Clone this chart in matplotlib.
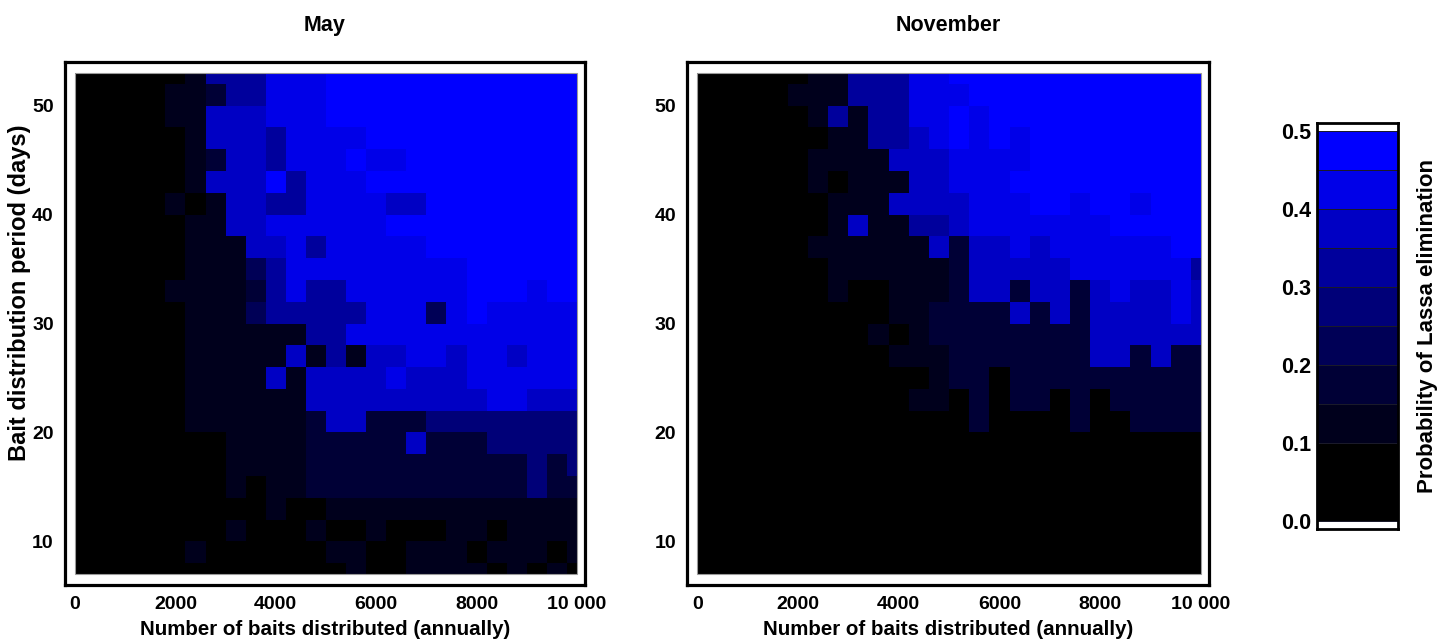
import matplotlib
matplotlib.use('Agg')

import matplotlib.pyplot as plt
import numpy as np
from matplotlib.colors import ListedColormap, BoundaryNorm
from matplotlib.patches import Rectangle

plt.rcParams['font.family'] = ['Liberation Sans', 'DejaVu Sans']
plt.rcParams['font.weight'] = 'bold'

# grid of scenarios
baits = [0, 400, 800, 1200, 1600, 2000, 2400, 2800, 3200, 3600, 4000, 4400, 4800,
         5200, 5600, 6000, 6400, 6800, 7200, 7600, 8000, 8400, 8800, 9200, 9600, 10000]
periods = [53, 51, 49, 47, 45, 43, 41, 39, 37, 35, 33, 31, 29, 27, 25, 23, 21, 19,
           17, 15, 13, 11, 9, 7]

# probability of elimination (%), rows follow `periods` (top to bottom)
may_pct = [
    [5, 5, 5, 5, 5, 5, 12, 32, 32, 32, 42, 42, 42, 47, 47, 47, 47, 47, 47, 47, 47, 47, 47, 47, 47, 47],
    [5, 5, 5, 5, 5, 12, 12, 17, 32, 32, 42, 42, 42, 47, 47, 47, 47, 47, 47, 47, 47, 47, 47, 47, 47, 47],
    [5, 5, 5, 5, 5, 12, 12, 37, 37, 37, 42, 42, 42, 47, 47, 47, 47, 47, 47, 47, 47, 47, 47, 47, 47, 47],
    [5, 5, 5, 5, 5, 5, 12, 37, 37, 37, 32, 42, 42, 42, 42, 47, 47, 47, 47, 47, 47, 47, 47, 47, 47, 47],
    [5, 5, 5, 5, 5, 5, 12, 17, 37, 37, 32, 42, 42, 42, 47, 42, 42, 47, 47, 47, 47, 47, 47, 47, 47, 47],
    [5, 5, 5, 5, 5, 5, 12, 37, 37, 37, 47, 32, 42, 42, 42, 47, 47, 47, 47, 47, 47, 47, 47, 47, 47, 47],
    [5, 5, 5, 5, 5, 12, 5, 12, 37, 37, 32, 32, 42, 42, 42, 42, 37, 37, 47, 47, 47, 47, 47, 47, 47, 47],
    [5, 5, 5, 5, 5, 5, 12, 12, 37, 37, 42, 42, 42, 42, 42, 42, 47, 47, 47, 47, 47, 47, 47, 47, 47, 47],
    [5, 5, 5, 5, 5, 5, 12, 12, 12, 37, 37, 42, 32, 42, 42, 42, 42, 42, 47, 47, 47, 47, 47, 47, 47, 47],
    [5, 5, 5, 5, 5, 5, 12, 12, 12, 22, 32, 42, 42, 42, 42, 42, 42, 42, 42, 42, 47, 47, 47, 47, 47, 47],
    [5, 5, 5, 5, 5, 12, 12, 12, 12, 17, 32, 42, 32, 32, 42, 42, 42, 42, 42, 42, 47, 47, 47, 42, 47, 47],
    [5, 5, 5, 5, 5, 5, 12, 12, 12, 22, 32, 32, 32, 32, 32, 42, 42, 42, 22, 42, 47, 42, 42, 42, 42, 42],
    [5, 5, 5, 5, 5, 5, 12, 12, 12, 12, 12, 12, 32, 32, 42, 42, 42, 42, 42, 42, 42, 42, 42, 42, 42, 42],
    [5, 5, 5, 5, 5, 5, 12, 12, 12, 12, 12, 37, 12, 32, 12, 37, 37, 42, 42, 37, 42, 42, 37, 42, 42, 42],
    [5, 5, 5, 5, 5, 5, 12, 12, 12, 12, 37, 12, 37, 37, 37, 37, 42, 37, 37, 37, 42, 42, 42, 42, 42, 42],
    [5, 5, 5, 5, 5, 5, 12, 12, 12, 12, 12, 12, 37, 37, 37, 37, 37, 37, 37, 37, 37, 42, 42, 37, 37, 37],
    [5, 5, 5, 5, 5, 5, 12, 12, 12, 12, 12, 12, 17, 37, 37, 17, 17, 17, 27, 27, 27, 27, 27, 27, 27, 27],
    [5, 5, 5, 5, 5, 5, 5, 5, 12, 12, 12, 12, 17, 17, 17, 17, 17, 37, 17, 17, 17, 27, 27, 27, 27, 27],
    [5, 5, 5, 5, 5, 5, 5, 5, 12, 12, 12, 12, 17, 17, 17, 17, 17, 17, 17, 17, 17, 17, 17, 27, 17, 27],
    [5, 5, 5, 5, 5, 5, 5, 5, 12, 5, 12, 12, 17, 17, 17, 17, 17, 17, 17, 17, 17, 17, 17, 27, 17, 17],
    [5, 5, 5, 5, 5, 5, 5, 5, 5, 5, 12, 5, 5, 12, 12, 12, 12, 12, 12, 12, 12, 12, 12, 12, 12, 12],
    [5, 5, 5, 5, 5, 5, 5, 5, 12, 5, 5, 5, 12, 5, 5, 12, 5, 5, 5, 12, 12, 5, 12, 12, 12, 12],
    [5, 5, 5, 5, 5, 5, 12, 5, 5, 5, 5, 5, 5, 12, 12, 5, 5, 12, 12, 12, 5, 12, 12, 12, 5, 12],
    [5, 5, 5, 5, 5, 5, 5, 5, 5, 5, 5, 5, 5, 5, 12, 5, 5, 12, 12, 12, 12, 5, 12, 5, 12, 5],
]

nov_pct = [
    [5, 5, 5, 5, 5, 5, 12, 12, 32, 32, 32, 42, 42, 47, 47, 47, 47, 47, 47, 47, 47, 47, 47, 47, 47, 47],
    [5, 5, 5, 5, 5, 12, 12, 12, 32, 32, 32, 42, 42, 42, 47, 47, 47, 47, 47, 47, 47, 47, 47, 47, 47, 47],
    [5, 5, 5, 5, 5, 5, 12, 32, 12, 32, 32, 42, 42, 47, 42, 47, 47, 47, 47, 47, 47, 47, 47, 47, 47, 47],
    [5, 5, 5, 5, 5, 5, 5, 12, 12, 32, 32, 37, 42, 47, 42, 47, 42, 47, 47, 47, 47, 47, 47, 47, 47, 47],
    [5, 5, 5, 5, 5, 5, 12, 12, 12, 12, 37, 37, 37, 42, 42, 42, 42, 47, 47, 47, 47, 47, 47, 47, 47, 47],
    [5, 5, 5, 5, 5, 5, 12, 5, 12, 12, 12, 37, 37, 42, 42, 42, 47, 47, 47, 47, 47, 47, 47, 47, 47, 47],
    [5, 5, 5, 5, 5, 5, 5, 12, 12, 12, 37, 37, 37, 37, 42, 42, 42, 47, 47, 42, 47, 47, 42, 47, 47, 47],
    [5, 5, 5, 5, 5, 5, 5, 12, 37, 12, 12, 32, 32, 37, 42, 42, 42, 42, 42, 42, 42, 47, 47, 47, 47, 47],
    [5, 5, 5, 5, 5, 5, 12, 12, 12, 12, 12, 12, 37, 17, 37, 37, 42, 37, 42, 42, 42, 42, 42, 42, 47, 47],
    [5, 5, 5, 5, 5, 5, 5, 12, 12, 12, 12, 12, 12, 17, 37, 37, 37, 37, 37, 42, 42, 42, 42, 42, 42, 32],
    [5, 5, 5, 5, 5, 5, 5, 12, 5, 5, 12, 12, 12, 17, 37, 37, 17, 37, 37, 17, 37, 42, 37, 37, 42, 37],
    [5, 5, 5, 5, 5, 5, 5, 5, 5, 5, 12, 12, 17, 17, 17, 17, 37, 17, 37, 17, 37, 37, 37, 37, 42, 37],
    [5, 5, 5, 5, 5, 5, 5, 5, 5, 12, 5, 12, 17, 17, 17, 17, 17, 17, 17, 17, 37, 37, 37, 37, 37, 37],
    [5, 5, 5, 5, 5, 5, 5, 5, 5, 5, 12, 12, 12, 17, 17, 17, 17, 17, 17, 17, 37, 37, 17, 37, 17, 17],
    [5, 5, 5, 5, 5, 5, 5, 5, 5, 5, 5, 5, 12, 17, 17, 5, 17, 17, 17, 17, 17, 17, 17, 17, 17, 17],
    [5, 5, 5, 5, 5, 5, 5, 5, 5, 5, 5, 12, 12, 5, 17, 5, 17, 17, 5, 17, 5, 17, 17, 17, 17, 17],
    [5, 5, 5, 5, 5, 5, 5, 5, 5, 5, 5, 5, 5, 5, 17, 5, 5, 5, 5, 17, 5, 5, 17, 17, 17, 17],
    [5] * 26,
    [5] * 26,
    [5] * 26,
    [5] * 26,
    [5] * 26,
    [5] * 26,
    [5] * 26,
]

level_bounds = [0, 0.1, 0.15, 0.2, 0.25, 0.3, 0.35, 0.4, 0.45, 0.5]
level_colors = ['#000000', '#00001c', '#000036', '#000056', '#000078',
                '#00009c', '#0000c4', '#0000e8', '#0000ff']
cmap = ListedColormap(level_colors)
norm = BoundaryNorm(level_bounds, cmap.N)


def cell_edges(centers):
    c = np.asarray(centers, dtype=float)
    mid = (c[:-1] + c[1:]) / 2
    return np.concatenate([[c[0]], mid, [c[-1]]])


x_edges = cell_edges(baits)
y_edges = cell_edges(periods)


def draw_panel(ax, pct, title, show_ylabel):
    z = np.array(pct) / 100.0
    ax.pcolormesh(x_edges, y_edges, z, cmap=cmap, norm=norm)
    ax.add_patch(Rectangle((baits[0], periods[-1]), baits[-1] - baits[0],
                           periods[0] - periods[-1], fill=False,
                           ec='#9a9a9a', lw=0.8, zorder=3))
    ax.set_xlim(-200, 10160)
    ax.set_ylim(6, 54)
    ax.set_xticks([0, 2000, 4000, 6000, 8000, 10000])
    ax.set_xticklabels(['0', '2000', '4000', '6000', '8000', '10 000'])
    ax.set_yticks([10, 20, 30, 40, 50])
    ax.tick_params(length=0, labelsize=14, pad=8)
    for s in ax.spines.values():
        s.set_linewidth(2.3)
    ax.set_title(title, fontsize=15.5, fontweight='bold', pad=22)
    ax.set_xlabel('Number of baits distributed (annually)', fontsize=14.8,
                  fontweight='bold', labelpad=5)
    if show_ylabel:
        ax.set_ylabel('Bait distribution period (days)', fontsize=17,
                      fontweight='bold')
        ax.yaxis.set_label_coords(-0.065, 0.559)


fig = plt.figure(figsize=(14.44, 6.4), dpi=100)
ax1 = fig.add_axes([0.0450, 0.0859, 0.3601, 0.8172])
ax2 = fig.add_axes([0.4758, 0.0859, 0.3615, 0.8172])
draw_panel(ax1, may_pct, 'May', True)
draw_panel(ax2, nov_pct, 'November', False)

# colour key
cax = fig.add_axes([0.9119, 0.173, 0.0561, 0.6353])
mids = np.array(level_bounds[:-1]).reshape(-1, 1)
cax.pcolormesh([0, 1], level_bounds, mids, cmap=cmap, norm=norm,
               edgecolors='#1a1a2a', linewidth=0.6)
cax.set_xlim(0, 1)
cax.set_ylim(-0.0103, 0.5103)
cax.set_xticks([])
cax.set_yticks([0, 0.1, 0.2, 0.3, 0.4, 0.5])
cax.set_yticklabels(['0.0', '0.1', '0.2', '0.3', '0.4', '0.5'])
cax.tick_params(length=0, labelsize=15.5, pad=4)
for s in cax.spines.values():
    s.set_linewidth(2.0)
cax.yaxis.set_label_position('right')
cax.set_ylabel('Probability of Lassa elimination', fontsize=16,
               fontweight='bold', labelpad=14)

fig.savefig('out.png', dpi=100)
plt.close(fig)
